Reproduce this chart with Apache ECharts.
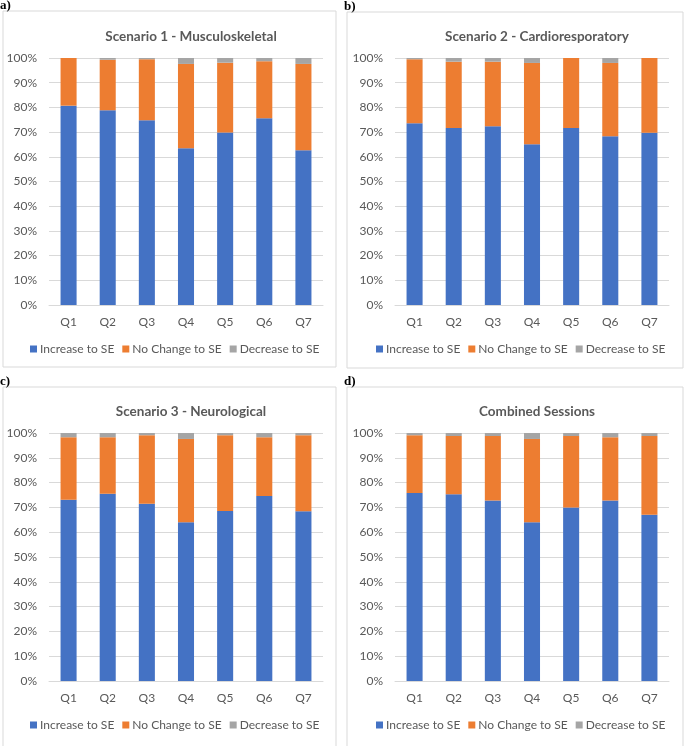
<!DOCTYPE html>
<html style="height: 100%">
<head>
  <meta charset="utf-8">
  <title>SE stacked bars</title>
</head>
<body style="height: 100%; margin: 0; background: #fff">
<div id="container" style="width: 685px; height: 746px"></div>
<script src="https://cdn.jsdelivr.net/npm/echarts@6/dist/echarts.min.js"></script>
<script>
  var dom = document.getElementById("container");
  var myChart = echarts.init(dom);
  var option;

  // categories + legend names
  var questions = ['Q1', 'Q2', 'Q3', 'Q4', 'Q5', 'Q6', 'Q7'];
  var seriesNames = ['Increase to SE', 'No Change to SE', 'Decrease to SE'];
  var titles = ['Scenario 1 - Musculoskeletal', 'Scenario 2 - Cardioresporatory', 'Scenario 3 - Neurological', 'Combined Sessions'];
  var panelLabels = ['a)', 'b)', 'c)', 'd)'];

  // percent of sessions (segment heights)
  var increaseA = [80.7, 78.8, 74.8, 63.5, 69.8, 75.6, 62.7];
  var noChangeA = [19.3, 20.5, 24.7, 34.1, 28.3, 23.1, 34.9];
  var decreaseA = [0, 0.7, 0.5, 2.4, 1.9, 1.3, 2.4];

  var increaseB = [73.6, 71.7, 72.4, 65.1, 71.7, 68.3, 69.7];
  var noChangeB = [25.9, 26.8, 26.1, 32.9, 28.3, 29.7, 30.3];
  var decreaseB = [0.5, 1.5, 1.5, 2.0, 0, 2.0, 0];

  var increaseC = [73.1, 75.5, 71.5, 64.0, 68.5, 74.6, 68.4];
  var noChangeC = [25.2, 22.8, 27.6, 33.6, 30.6, 23.7, 30.7];
  var decreaseC = [1.7, 1.7, 0.9, 2.4, 0.9, 1.7, 0.9];

  var increaseD = [75.8, 75.3, 72.8, 64.0, 70.0, 72.8, 67.0];
  var noChangeD = [23.3, 23.5, 26.0, 33.6, 28.8, 25.5, 31.8];
  var decreaseD = [0.9, 1.2, 1.2, 2.4, 1.2, 1.7, 1.2];

  var panelData = [
    [increaseA, noChangeA, decreaseA],
    [increaseB, noChangeB, decreaseB],
    [increaseC, noChangeC, decreaseC],
    [increaseD, noChangeD, decreaseD]
  ];

  var colors = ['#4472C4', '#ED7D31', '#A5A5A5'];
  var font = 'Lato';

  // layout of the four panels (frame + plot area)
  var frames = [
    {x: 3, y: 11, w: 333, h: 356},
    {x: 347, y: 12, w: 336, h: 356},
    {x: 3, y: 387, w: 333, h: 362},
    {x: 347, y: 387, w: 336, h: 362}
  ];
  var grids = [
    {left: 49, top: 58, width: 274, height: 247},
    {left: 395, top: 58, width: 274, height: 247},
    {left: 49, top: 433, width: 274, height: 248},
    {left: 395, top: 433, width: 274, height: 248}
  ];

  var titleOpts = [], legendOpts = [], xAxes = [], yAxes = [], series = [], graphics = [];

  grids.forEach(function (g, i) {
    var cx = g.left + g.width / 2;
    titleOpts.push({
      text: titles[i],
      left: cx, textAlign: 'center',
      top: g.top - 33,
      textStyle: {fontFamily: font, fontSize: 13.5, fontWeight: 'bold', color: '#595959'}
    });
    legendOpts.push({
      data: seriesNames,
      left: g.left - 19, top: g.top + g.height + 38,
      width: 305, padding: 0,
      orient: 'horizontal',
      itemWidth: 7, itemHeight: 7, itemGap: 8,
      icon: 'rect',
      textStyle: {fontFamily: font, fontSize: 12, color: '#595959', padding: [0, 0, 0, -2]},
      selectedMode: false
    });
    xAxes.push({
      type: 'category', gridIndex: i, data: questions,
      axisLine: {lineStyle: {color: '#D9D9D9'}},
      axisTick: {show: false},
      axisLabel: {fontFamily: font, fontSize: 12, color: '#595959', margin: 11}
    });
    yAxes.push({
      type: 'value', gridIndex: i, min: 0, max: 100, interval: 10,
      axisLine: {show: false}, axisTick: {show: false},
      axisLabel: {formatter: '{value}%', fontFamily: font, fontSize: 12, color: '#595959', margin: 12},
      splitLine: {lineStyle: {color: '#D9D9D9'}}
    });
    seriesNames.forEach(function (name, k) {
      series.push({
        name: name, type: 'bar', stack: 'p' + i,
        xAxisIndex: i, yAxisIndex: i,
        barWidth: '41%',
        itemStyle: {color: colors[k]},
        data: panelData[i][k]
      });
    });
    var f = frames[i];
    graphics.push({
      type: 'rect', shape: {x: f.x, y: f.y, width: f.w, height: f.h},
      style: {fill: 'none', stroke: '#D9D9D9', lineWidth: 1}, silent: true, z: -1
    });
    graphics.push({
      type: 'text', x: f.x - 3, y: f.y - 12,
      style: {text: panelLabels[i], font: 'bold 13px "Liberation Serif"', fill: '#000'}
    });
  });

  option = {
    animation: false,
    color: colors,
    title: titleOpts,
    legend: legendOpts,
    grid: grids,
    xAxis: xAxes,
    yAxis: yAxes,
    series: series,
    graphic: graphics
  };

  if (option && typeof option === 'object') {
    myChart.setOption(option);
  }
</script>
</body>
</html>
